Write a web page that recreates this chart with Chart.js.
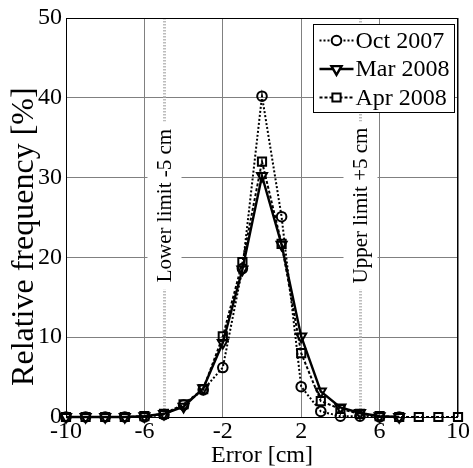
<!DOCTYPE html>
<html>
<head>
<meta charset="utf-8">
<script src="https://cdn.jsdelivr.net/npm/chart.js@4/dist/chart.umd.min.js"></script>
<style>
  html, body { margin: 0; padding: 0; background: #ffffff; }
  canvas { display: block; }
</style>
</head>
<body>
<canvas id="chart" width="473" height="468"></canvas>
<script>
// Error bins [cm] and relative frequencies [%] per survey
const errorCm = [-10, -9, -8, -7, -6, -5, -4, -3, -2, -1, 0, 1, 2, 3, 4, 5, 6, 7, 8, 9, 10];
const oct2007 = [0, 0, 0, 0, 0, 0.3, 1.5, 3.4, 6.2, 18.6, 40.2, 25.1, 3.8, 0.7, 0.1, 0.1, 0, 0];
const mar2008 = [0, 0, 0, 0, 0.1, 0.4, 1.3, 3.6, 9.3, 18.5, 30.2, 21.6, 10.1, 3.2, 1.2, 0.5, 0.1, 0];
const apr2008 = [0, 0, 0, 0, 0.1, 0.4, 1.6, 3.5, 10.1, 19.4, 32.0, 21.7, 8.0, 2.0, 1.0, 0.4, 0.1, 0, 0, 0, 0];
const seriesNames = ['Oct 2007', 'Mar 2008', 'Apr 2008'];

const xTickValues = [-10, -6, -2, 2, 6, 10];
const yTickValues = [0, 10, 20, 30, 40, 50];
const limitValues = [-5, 5];
const limitLabels = ['Lower limit -5 cm', 'Upper limit +5 cm'];
const xTitle = 'Error [cm]';
const yTitle = 'Relative frequency [%]';

const SERIF = "'Liberation Serif', 'Times New Roman', serif";

function toPoints(values) {
  return values.map((v, i) => ({ x: errorCm[i], y: v }));
}

// Tolerance limits, their labels, the y title, the axes box and the legend
const decorations = {
  id: 'decorations',
  beforeDatasetsDraw(chart) {
    const { ctx, chartArea: a, scales: { x } } = chart;
    const cy = a.top + 0.47 * (a.bottom - a.top);
    limitValues.forEach((v, i) => {
      const px = Math.round(x.getPixelForValue(v)) + 0.5;
      ctx.save();
      ctx.strokeStyle = '#bdbdbd';
      ctx.lineWidth = 3;
      ctx.setLineDash([1.5, 1.5]);
      ctx.beginPath();
      ctx.moveTo(px, a.top);
      ctx.lineTo(px, a.bottom);
      ctx.stroke();
      ctx.setLineDash([]);
      ctx.fillStyle = '#ffffff';
      ctx.fillRect(px - 17, cy - 84, 34, 168);
      ctx.translate(px, cy);
      ctx.rotate(-Math.PI / 2);
      ctx.fillStyle = '#000000';
      ctx.font = '21px ' + SERIF;
      ctx.textAlign = 'center';
      ctx.textBaseline = 'middle';
      ctx.fillText(limitLabels[i], 0, 1);
      ctx.restore();
    });
  },
  afterDraw(chart) {
    const { ctx, chartArea: a } = chart;
    ctx.save();

    // y axis title
    ctx.save();
    ctx.translate(25, a.top + 0.548 * (a.bottom - a.top));
    ctx.rotate(-Math.PI / 2);
    ctx.fillStyle = '#000000';
    ctx.font = '32px ' + SERIF;
    ctx.textAlign = 'center';
    ctx.textBaseline = 'middle';
    ctx.fillText(yTitle, 0, 0);
    ctx.restore();

    ctx.strokeStyle = '#000000';
    ctx.lineWidth = 1;
    ctx.strokeRect(Math.round(a.left) + 0.5, Math.round(a.top) + 0.5,
                   Math.round(a.right - a.left) - 1, Math.round(a.bottom - a.top));

    // legend
    const bx = Math.round(a.right) - 145 + 0.5;
    const by = Math.round(a.top) + 6 + 0.5;
    const bw = 141, bh = 88;
    ctx.fillStyle = '#ffffff';
    ctx.fillRect(bx, by, bw, bh);
    ctx.strokeRect(bx, by, bw, bh);
    chart.data.datasets.forEach((ds, i) => {
      const ry = by + 16 + i * 28.5;
      ctx.save();
      ctx.strokeStyle = ds.borderColor;
      ctx.lineWidth = ds.borderWidth;
      ctx.setLineDash(ds.borderDash || []);
      ctx.beginPath();
      ctx.moveTo(bx + 6, ry);
      ctx.lineTo(bx + 40, ry);
      ctx.stroke();
      ctx.setLineDash([]);
      ctx.strokeStyle = ds.pointBorderColor;
      ctx.fillStyle = '#ffffff';
      Chart.helpers.drawPoint(ctx, {
        pointStyle: ds.pointStyle,
        rotation: ds.pointRotation || 0,
        radius: ds.pointRadius,
        borderWidth: ds.pointBorderWidth
      }, bx + 23, ry);
      ctx.restore();
      ctx.fillStyle = '#000000';
      ctx.font = '24px ' + SERIF;
      ctx.textAlign = 'left';
      ctx.textBaseline = 'middle';
      ctx.fillText(ds.label, bx + 42, ry + 1);
    });
    ctx.restore();
  }
};

const common = {
  borderColor: '#000000',
  pointBorderColor: '#000000',
  pointBackgroundColor: 'rgba(0,0,0,0)',
  backgroundColor: 'rgba(0,0,0,0)',
  fill: false,
  tension: 0,
  clip: false,
  pointBorderWidth: 2
};

new Chart(document.getElementById('chart'), {
  type: 'line',
  data: {
    datasets: [
      Object.assign({}, common, {
        label: seriesNames[0], data: toPoints(oct2007),
        borderWidth: 2, borderDash: [2, 2],
        pointStyle: 'circle', pointRadius: 4.8
      }),
      Object.assign({}, common, {
        label: seriesNames[1], data: toPoints(mar2008),
        borderWidth: 2.4,
        pointStyle: 'triangle', pointRotation: 180, pointRadius: 5.8
      }),
      Object.assign({}, common, {
        label: seriesNames[2], data: toPoints(apr2008),
        borderWidth: 2, borderDash: [3, 2],
        pointStyle: 'rect', pointRadius: 5.8
      })
    ]
  },
  options: {
    responsive: false,
    animation: false,
    devicePixelRatio: 1,
    layout: { padding: { top: 18, right: 10, left: 0, bottom: 0 } },
    plugins: { legend: { display: false }, tooltip: { enabled: false } },
    scales: {
      x: {
        type: 'linear',
        min: -10, max: 10,
        afterFit(scale) { scale.height = 51; },
        afterBuildTicks(scale) { scale.ticks = xTickValues.map(v => ({ value: v })); },
        grid: { color: '#808080', lineWidth: 1, drawTicks: false },
        border: { display: false },
        ticks: {
          color: '#000000', padding: 3, maxRotation: 0, autoSkip: false,
          font: { family: SERIF, size: 24, lineHeight: 1.0 },
          callback: v => String(v)
        },
        title: {
          display: true, text: xTitle, color: '#000000',
          font: { family: SERIF, size: 24, lineHeight: 1.0 },
          padding: { top: 0, bottom: 0 }
        }
      },
      y: {
        type: 'linear',
        min: 0, max: 50,
        afterFit(scale) { scale.width = 66; },
        afterBuildTicks(scale) { scale.ticks = yTickValues.map(v => ({ value: v })); },
        grid: { color: '#808080', lineWidth: 1, drawTicks: false },
        border: { display: false },
        ticks: {
          color: '#000000', padding: 4,
          font: { family: SERIF, size: 24, lineHeight: 1.0 },
          callback: v => String(v)
        }
      }
    }
  },
  plugins: [decorations]
});
</script>
</body>
</html>
